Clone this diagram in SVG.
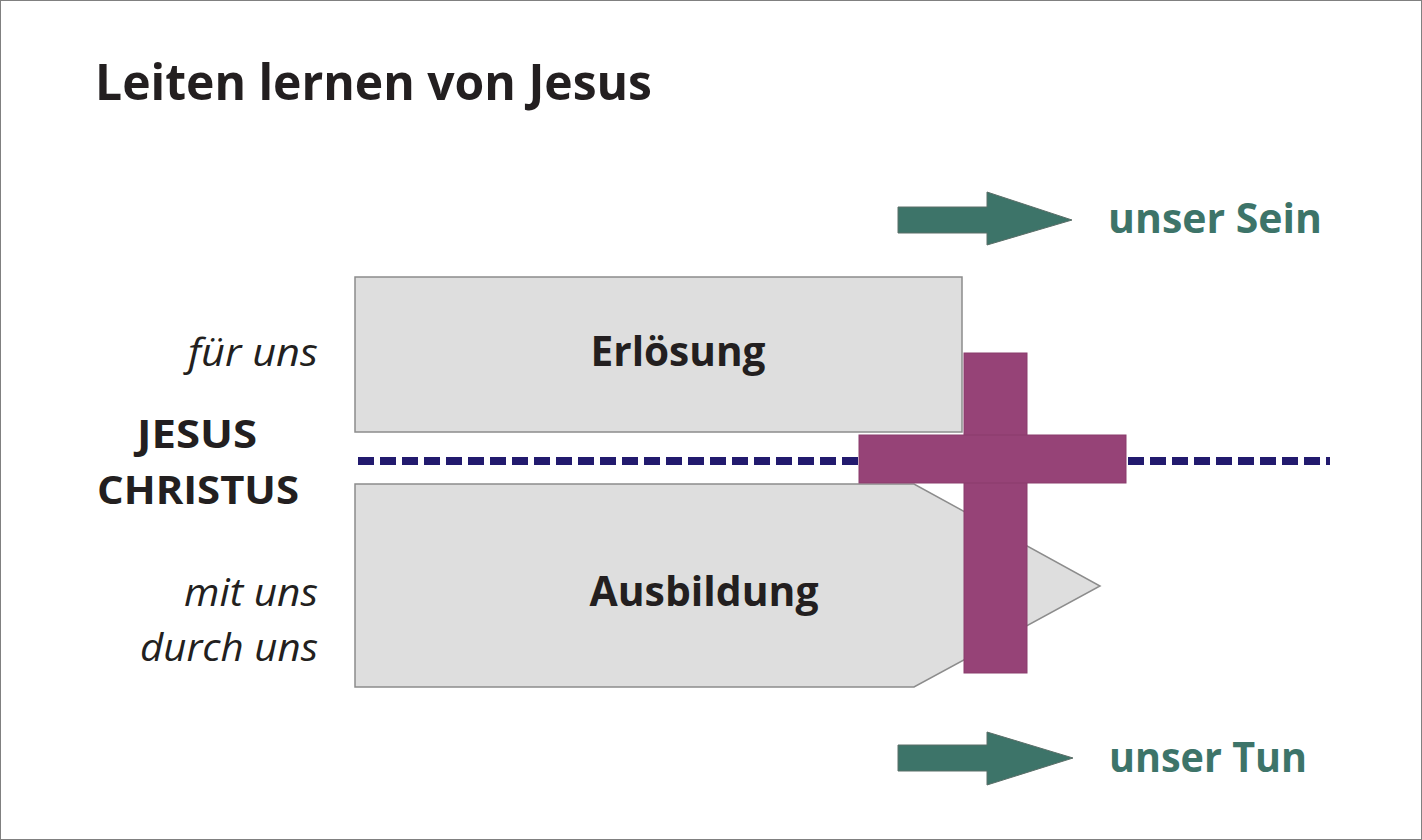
<svg xmlns="http://www.w3.org/2000/svg" width="1422" height="840" viewBox="0 0 1422 840">
<style>
.t{font-family:"Open Sans","Noto Sans","Liberation Sans",sans-serif;fill:#231f20}
.b{font-weight:bold}
.i{font-style:italic}
.teal{fill:#3d7469}
.box{fill:#dedede;stroke:#8c8c8c;stroke-width:1.5}
.arrow{fill:#3d7469;stroke:#5a6e68;stroke-width:1}
.cross{fill:#964377;stroke:#8a3d6c;stroke-width:1}
</style>
<rect x="0.5" y="0.5" width="1421" height="839" fill="#ffffff" stroke="#808080" stroke-width="1"/>
<text id="title" class="t b" x="95" y="100" font-size="50" textLength="557" lengthAdjust="spacingAndGlyphs">Leiten lernen von Jesus</text>
<g id="labels-left">
<text class="t i" x="318" y="366" font-size="38" text-anchor="end" textLength="130" lengthAdjust="spacingAndGlyphs">für uns</text>
<text class="t b" x="197" y="448" font-size="40" text-anchor="middle" textLength="120" lengthAdjust="spacingAndGlyphs">JESUS</text>
<text class="t b" x="198" y="504" font-size="40" text-anchor="middle" textLength="202" lengthAdjust="spacingAndGlyphs">CHRISTUS</text>
<text class="t i" x="318" y="606" font-size="38" text-anchor="end" textLength="134" lengthAdjust="spacingAndGlyphs">mit uns</text>
<text class="t i" x="318" y="661" font-size="38" text-anchor="end" textLength="178" lengthAdjust="spacingAndGlyphs">durch uns</text>
</g>
<g id="connectors">
<line x1="358" y1="461" x2="1330" y2="461" stroke="#221a6e" stroke-width="8" stroke-dasharray="16 6"/>
</g>
<g id="erloesung">
<rect class="box" x="355" y="277" width="607" height="155"/>
<text class="t b" x="678" y="366" font-size="42" text-anchor="middle" textLength="175" lengthAdjust="spacingAndGlyphs">Erlösung</text>
</g>
<g id="ausbildung">
<polygon class="box" points="355,484 914,484 1100,586 914,687 355,687"/>
<text class="t b" x="704" y="606" font-size="42" text-anchor="middle" textLength="229" lengthAdjust="spacingAndGlyphs">Ausbildung</text>
</g>
<g id="cross">
<rect class="cross" x="964" y="353" width="63" height="320"/>
<rect class="cross" x="859" y="435" width="267" height="48"/>
</g>
<g id="arrow-sein">
<polygon class="arrow" points="898,207 987,207 987,192 1072,220 987,245 987,233 898,233"/>
<text class="t b teal" x="1108" y="233" font-size="42" textLength="214" lengthAdjust="spacingAndGlyphs">unser Sein</text>
</g>
<g id="arrow-tun">
<polygon class="arrow" points="898,745 987,745 987,732 1073,758 987,785 987,771 898,771"/>
<text class="t b teal" x="1109" y="772" font-size="42" textLength="198" lengthAdjust="spacingAndGlyphs">unser Tun</text>
</g>
</svg>
